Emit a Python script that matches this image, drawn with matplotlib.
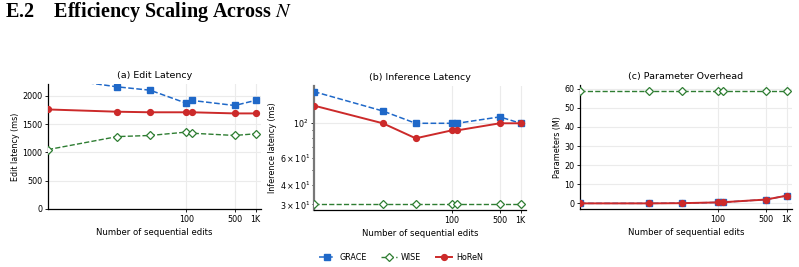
import matplotlib.pyplot as plt
import matplotlib.ticker as mticker

# number of sequential edits (log x axis)
n_edits = [1, 10, 30, 100, 120, 500, 1000]

# (a) edit latency (ms)
grace_edit = [2330, 2160, 2100, 1870, 1920, 1830, 1920]
wise_edit = [1050, 1280, 1300, 1360, 1340, 1300, 1330]
horen_edit = [1760, 1720, 1710, 1710, 1710, 1690, 1690]

# (b) inference latency (ms)
grace_inf = [160, 120, 100, 100, 100, 110, 100]
wise_inf = [30, 30, 30, 30, 30, 30, 30]
horen_inf = [130, 100, 80, 90, 90, 100, 100]

# (c) parameter overhead (M)
grace_par = [0.0, 0.0, 0.1, 0.5, 0.6, 2.0, 4.0]
wise_par = [59, 59, 59, 59, 59, 59, 59]
horen_par = [0.0, 0.0, 0.1, 0.5, 0.6, 2.0, 4.0]

x_ticks = [100, 500, 1000]
x_ticklabels = ["100", "500", "1K"]

BLUE = "#1f68c8"
GREEN = "#2e7d32"
RED = "#cc2a2a"
FS = 5.8

plt.rcParams['font.family'] = ['DejaVu Sans']


def draw(ax, grace, wise, horen, title, ylabel):
    ax.plot(n_edits, grace, color=BLUE, ls='--', lw=1.1, marker='s', ms=4.2,
            label='GRACE', zorder=3)
    ax.plot(n_edits, wise, color=GREEN, ls='--', lw=1.0, marker='D', ms=3.6,
            mfc='white', mew=0.9, label='WISE', zorder=3)
    ax.plot(n_edits, horen, color=RED, ls='-', lw=1.4, marker='o', ms=4.2,
            label='HoReN', zorder=4)
    ax.set_xscale('log')
    ax.set_xlim(1, 1200)
    ax.set_xticks(x_ticks)
    ax.set_xticklabels(x_ticklabels)
    ax.xaxis.set_minor_locator(mticker.NullLocator())
    ax.set_title(title, fontsize=FS + 1.0, pad=4)
    ax.set_xlabel('Number of sequential edits', fontsize=FS + 0.3, labelpad=3)
    ax.set_ylabel(ylabel, fontsize=FS, labelpad=2)
    ax.tick_params(which='both', labelsize=FS, width=0.6, pad=1.5)
    ax.tick_params(which='major', length=2.5)
    ax.tick_params(which='minor', length=1.5)
    ax.grid(True, which='major', color='#ebebeb', lw=0.8)
    ax.set_axisbelow(True)
    for s in ['top', 'right']:
        ax.spines[s].set_visible(False)
    for s in ['left', 'bottom']:
        ax.spines[s].set_linewidth(0.9)


fig = plt.figure(figsize=(7.99, 2.67), dpi=100)

ax1 = fig.add_axes([48 / 799, 1 - 209 / 267, 213 / 799, 125 / 267])
ax2 = fig.add_axes([314 / 799, 1 - 210 / 267, 212 / 799, 124 / 267])
ax3 = fig.add_axes([580 / 799, 1 - 209 / 267, 212 / 799, 124 / 267])

draw(ax1, grace_edit, wise_edit, horen_edit, '(a) Edit Latency', 'Edit latency (ms)')
ax1.set_ylim(0, 2210)
ax1.set_yticks([0, 500, 1000, 1500, 2000])

draw(ax2, grace_inf, wise_inf, horen_inf, '(b) Inference Latency', 'Inference latency (ms)')
ax2.set_yscale('log')
ax2.tick_params(which='both', labelsize=FS)
ax2.spines['left'].set_color('#777777')
ax2.spines['left'].set_linewidth(1.6)

draw(ax3, grace_par, wise_par, horen_par, '(c) Parameter Overhead', 'Parameters (M)')
ax3.set_yticks([0, 10, 20, 30, 40, 50, 60])

handles, labels = ax1.get_legend_handles_labels()
fig.legend(handles, labels, loc='center', bbox_to_anchor=(401 / 799, 1 - 257 / 267),
           ncol=3, frameon=False, fontsize=FS, handlelength=2.0, columnspacing=1.8,
           handletextpad=0.5)

fig.text(5 / 799, 1 - 17 / 267, "E.2    Efficiency Scaling Across $N$",
         family='Liberation Serif', weight='bold', fontsize=14.5,
         math_fontfamily='stix', va='baseline', ha='left')

fig.savefig('out.png', dpi=100)
